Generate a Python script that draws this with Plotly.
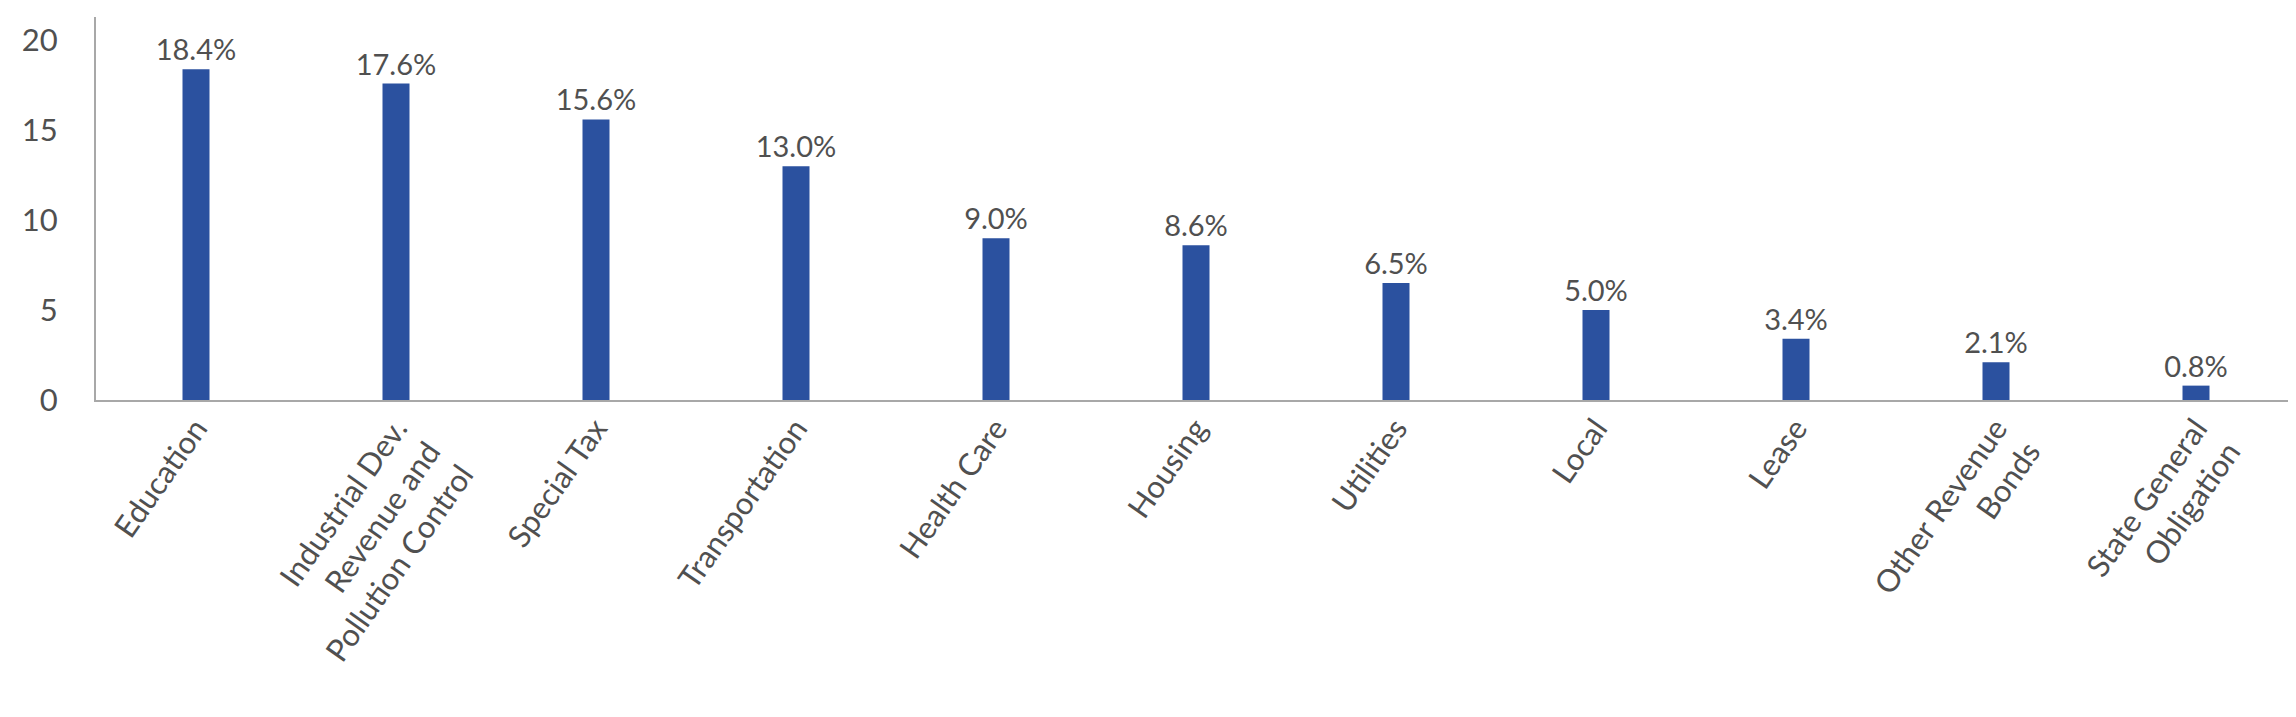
import plotly.graph_objects as go

categories = [
    "Education",
    "Industrial Dev.<br>Revenue and<br>Pollution Control",
    "Special Tax",
    "Transportation",
    "Health Care",
    "Housing",
    "Utilities",
    "Local",
    "Lease",
    "Other Revenue<br>Bonds",
    "State General<br>Obligation",
]
values = [18.4, 17.6, 15.6, 13.0, 9.0, 8.6, 6.5, 5.0, 3.4, 2.1, 0.8]
value_labels = [f"{v:.1f}%" for v in values]
y_ticks = [0, 5, 10, 15, 20]

FONT = "Lato"
TEXT_COLOR = "#505050"
AXIS_COLOR = "#a8a8a8"
BAR_COLOR = "#2b519f"

# the page body adds an 8px margin, so the figure is shrunk by that amount
fig = go.Figure(
    go.Bar(
        x=categories,
        y=values,
        text=value_labels,
        textposition="outside",
        constraintext="none",
        textfont=dict(family=FONT, size=29, color=TEXT_COLOR),
        cliponaxis=False,
        marker=dict(color=BAR_COLOR, line=dict(width=0)),
        width=0.135,
    )
)

fig.update_layout(
    width=2288,
    height=709,
    margin=dict(l=88, r=0, t=9, b=317),
    plot_bgcolor="white",
    paper_bgcolor="white",
    showlegend=False,
    font=dict(family=FONT, color=TEXT_COLOR),
    xaxis=dict(
        range=[-0.5, 10.5],
        showline=True,
        linecolor=AXIS_COLOR,
        linewidth=2,
        showgrid=False,
        ticks="",
        tickangle=-55,
        ticklabelstandoff=-4,
        tickfont=dict(family=FONT, size=31, color=TEXT_COLOR),
    ),
    yaxis=dict(
        range=[0, 21.3],
        showline=True,
        linecolor=AXIS_COLOR,
        linewidth=2,
        showgrid=False,
        zeroline=False,
        ticks="",
        tickvals=y_ticks,
        ticklabelstandoff=30,
        tickfont=dict(family=FONT, size=31, color=TEXT_COLOR),
    ),
)

fig.write_html("out.html")
